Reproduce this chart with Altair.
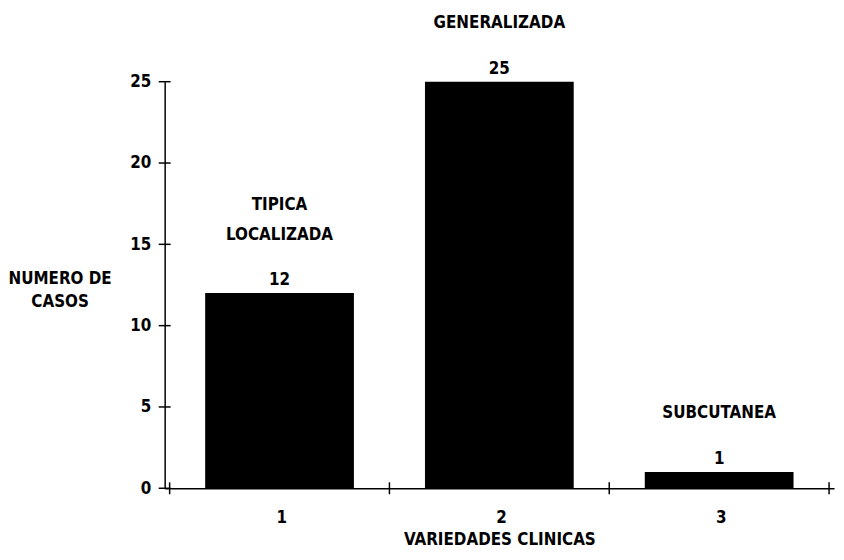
import altair as alt
import pandas as pd

categories = [1, 2, 3]
casos = [12, 25, 1]
nombre_sup = ["TIPICA", "", ""]
nombre_inf = ["LOCALIZADA", "GENERALIZADA", "SUBCUTANEA"]
y_ticks = [0, 5, 10, 15, 20, 25]
x_bounds = [0.5, 1.5, 2.5, 3.5]

W, H = 675, 410
FONT = "DejaVu Sans Condensed, DejaVu Sans"
FS = 17
FW = "bold"

df = pd.DataFrame({"cat": categories, "casos": casos,
                   "sup": nombre_sup, "inf": nombre_inf})
df_y = pd.DataFrame({"casos": y_ticks})
df_x = pd.DataFrame({"cat": x_bounds})

x_scale = alt.Scale(domain=[0.5, 3.5], nice=False, zero=False)
y_scale = alt.Scale(domain=[0, 25], nice=False)

bars = alt.Chart(df).mark_bar(color="black", size=150).encode(
    x=alt.X("cat:Q", scale=x_scale, axis=alt.Axis(
        values=x_bounds, ticks=False, tickSize=0, grid=False,
        labelExpr="datum.value < 3 ? format(datum.value + 0.5, 'd') : ''",
        labelOffset=112.5, labelFlush=False, labelOverlap=False, labelBound=False,
        labelBaseline="alphabetic", labelPadding=35,
        title="VARIEDADES CLINICAS", titleY=57, titleBaseline="alphabetic")),
    y=alt.Y("casos:Q", scale=y_scale, axis=alt.Axis(
        values=y_ticks, ticks=False, tickSize=0, grid=False, labelPadding=14,
        title=["NUMERO DE", "CASOS"], titleAngle=0, titleX=-106, titleY=203,
        titleAlign="center", titleBaseline="alphabetic", titleLineHeight=24)),
)

values_text = alt.Chart(df).mark_text(
    baseline="alphabetic", dy=-8, font=FONT, fontSize=FS, fontWeight=FW, color="black"
).encode(x="cat:Q", y="casos:Q", text="casos:Q")

names_inf = alt.Chart(df).mark_text(
    baseline="alphabetic", dy=-54, font=FONT, fontSize=FS, fontWeight=FW, color="black"
).encode(x="cat:Q", y="casos:Q", text="inf:N")

names_sup = alt.Chart(df).mark_text(
    baseline="alphabetic", dy=-84, font=FONT, fontSize=FS, fontWeight=FW, color="black"
).encode(x="cat:Q", y="casos:Q", text="sup:N")

y_tick_rules = alt.Chart(df_y).mark_rule(color="black", strokeWidth=1.5).encode(
    y="casos:Q", x=alt.value(-6), x2=alt.value(6))

x_tick_rules = alt.Chart(df_x).mark_rule(color="black", strokeWidth=1.5).encode(
    x="cat:Q", y=alt.value(H - 6), y2=alt.value(H + 6))

chart = alt.layer(bars, values_text, names_inf, names_sup,
                  y_tick_rules, x_tick_rules).properties(
    width=W, height=H,
    autosize=alt.AutoSizeParams(type="none"),
    padding={"left": 158, "top": 72, "right": 2, "bottom": 70},
    background="white",
).configure_view(stroke=None).configure_axis(
    domainColor="black", domainWidth=1.5, labelColor="black", titleColor="black",
    labelFont=FONT, titleFont=FONT, labelFontSize=FS, titleFontSize=FS,
    labelFontWeight=FW, titleFontWeight=FW,
)

chart.save("out.html", embed_options={"renderer": "svg", "actions": False})
